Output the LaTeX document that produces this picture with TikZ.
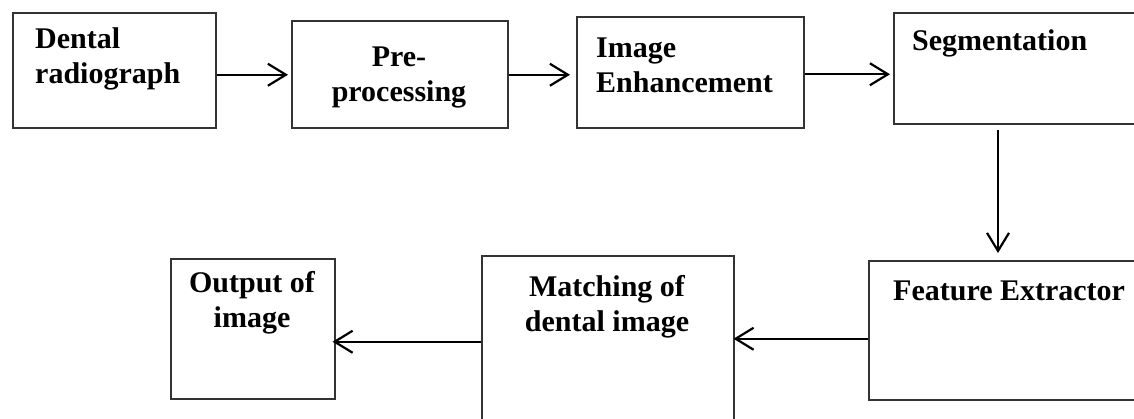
\documentclass[tikz,border=0pt]{standalone}
\usepackage{fontspec}
\setmainfont{Liberation Serif}
\usetikzlibrary{arrows.meta}
\usetikzlibrary{calc,positioning}

\begin{document}
\begin{tikzpicture}[x=1pt, y=-1pt,
    box/.style={draw=black!80, line width=1.5pt, rectangle, anchor=north west, inner sep=0pt},
    txt/.style={inner sep=0pt, font=\fontsize{30}{35}\selectfont\bfseries},
    arr/.style={-{Straight Barb[length=18pt, width=22pt]}, line width=2.2pt}]

    \clip (0,0) rectangle (1134,418);

    % caixas
    \node[box, minimum width=203pt, minimum height=115pt] (radio) at (12,12) {};
    \node[box, minimum width=216pt, minimum height=107pt] (pre) at (291,20) {};
    \node[box, minimum width=227pt, minimum height=111pt] (enh) at (576,16) {};
    \node[box, minimum width=260pt, minimum height=111pt] (seg) at (893,12) {};
    \node[box, minimum width=285pt, minimum height=139pt] (feat) at (868,260) {};
    \node[box, minimum width=252pt, minimum height=180pt] (match) at (481,255) {};
    \node[box, minimum width=164pt, minimum height=140pt] (out) at (170,258) {};

    % textos
    \node[txt, anchor=base west, align=left] (radiotxt) at (35,83) {Dental\\radiograph};
    \node[txt, anchor=base, align=center] (pretxt) at (399,101) {Pre-\\processing};
    \node[txt, anchor=base west, align=left] (enhtxt) at (596,92) {Image\\Enhancement};
    \node[txt, anchor=base west] (segtxt) at (912,50) {Segmentation};
    \node[txt, anchor=base west] (feattxt) at (893,300) {Feature Extractor};
    \node[txt, anchor=base, align=center] (matchtxt) at (607,331) {Matching of\\dental image};
    \node[txt, anchor=base, align=center] (outtxt) at (252,327) {Output of\\image};

    % setas
    \draw[arr, shorten >=3pt] ([yshift=-4.5pt]radio.east) -- ([yshift=-4.5pt]radio.east -| pre.west);
    \draw[arr, shorten >=6pt] ([yshift=-0.5pt]pre.east) -- ([yshift=-0.5pt]pre.east -| enh.west);
    \draw[arr, shorten >=3pt] ([yshift=-2pt]enh.east) -- ([yshift=-2pt]enh.east -| seg.west);
    \draw[arr, shorten <=5pt, shorten >=7pt] ([xshift=105pt]seg.south west) -- ([xshift=105pt]seg.south west |- feat.north);
    \draw[arr, shorten >=-1pt] ([yshift=-8.5pt]feat.west) -- ([yshift=-8.5pt]feat.west -| match.east);
    \draw[arr, shorten >=-3pt] ([yshift=4pt]match.west) -- ([yshift=4pt]match.west -| out.east);
\end{tikzpicture}
\end{document}
